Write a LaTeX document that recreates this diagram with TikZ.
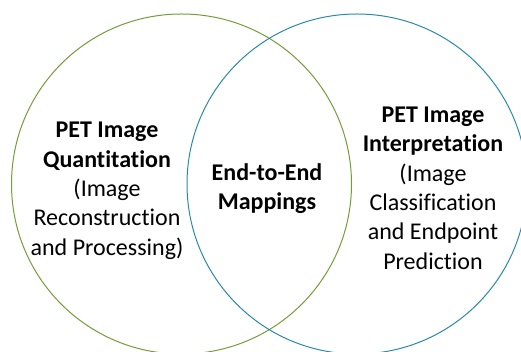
\documentclass[tikz,border=0pt]{standalone}
\usepackage{fontspec}
\setmainfont{Carlito}[Ligatures=NoCommon]
\usepackage{tikz}
\definecolor{setgreen}{RGB}{118,156,58}
\definecolor{setblue}{RGB}{42,138,170}

\begin{document}
\begin{tikzpicture}[x=1pt,y=1pt,
  venntext/.style={align=center, inner sep=0pt, anchor=base,
    font=\fontsize{24}{29.3}\selectfont},
]
\useasboundingbox (0,0) rectangle (521,352);
\clip (0,0) rectangle (521,352);
\draw[setgreen, line width=1pt] (181.5,168) circle (170pt);
\draw[setblue, line width=1pt] (357,168) circle (170pt);
% base anchor sits on the last line
\node[venntext] (quant) at (107,96.8) {\textbf{PET Image}\\ \textbf{Quantitation}\\
  (Image\\ Reconstruction\\ and Processing)};
\node[venntext] (mapping) at (267,142) {\textbf{End-to-End}\\ \textbf{Mappings}};
\node[venntext] (interp) at (433,82.8) {\textbf{PET Image}\\ \textbf{Interpretation}\\
  (Image\\ Classification\\ and Endpoint\\ Prediction};
\end{tikzpicture}
\end{document}
